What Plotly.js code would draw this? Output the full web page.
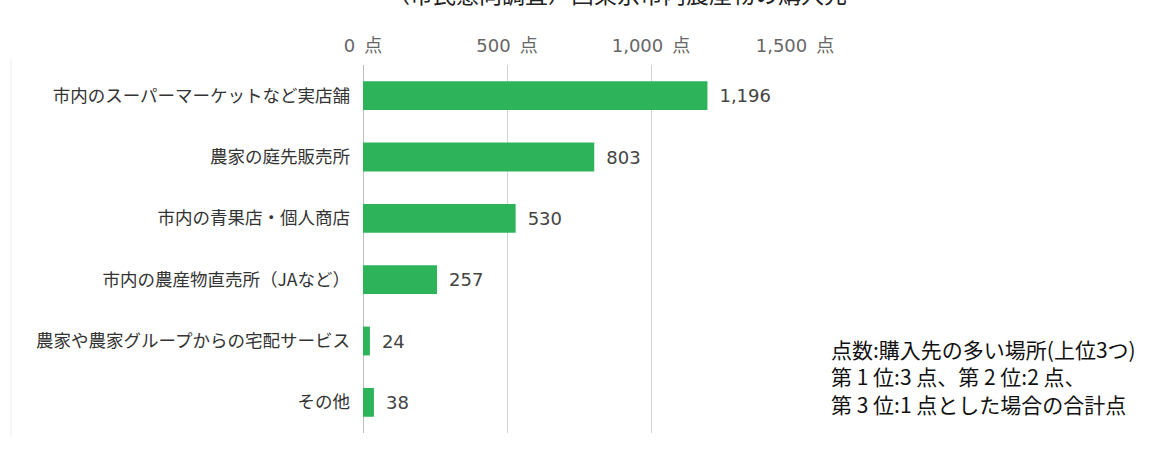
<!DOCTYPE html>
<html><head><meta charset="utf-8">
<script src="https://cdn.plot.ly/plotly-3.0.1.min.js"></script>
<style>html,body{margin:0;padding:0;background:#fff;}#chart{width:1154px;height:450px;}</style>
</head><body><div id="chart"></div>
<script>
const titleText = '（市民意向調査）西東京市内農産物の購入先';
const categories = ['市内のスーパーマーケットなど実店舗','農家の庭先販売所','市内の青果店・個人商店','市内の農産物直売所（JAなど）','農家や農家グループからの宅配サービス','その他'];
const points = [1196, 803, 530, 257, 24, 38];
const tickValues = [0, 500, 1000, 1500];
const tickLabels = ['0\u2002点', '500\u2002点', '1,000\u2002点', '1,500\u2002点'];
const noteLines = ['点数:購入先の多い場所(上位3つ)','第 1 位:3 点、第 2 位:2 点、','第 3 位:1 点とした場合の合計点'];

const cjk = 'Noto Sans CJK JP, Noto Sans, sans-serif';
const num = 'DejaVu Sans, Noto Sans CJK JP, sans-serif';
const trace = {
  type: 'bar', orientation: 'h',
  x: points, y: categories,
  marker: {color: '#2db45a'},
  width: 0.47,
  text: points, texttemplate: '\u2002%{x:,d}', textposition: 'outside',
  textfont: {family: num, size: 18, color: '#444'},
  cliponaxis: false, hoverinfo: 'skip'
};
const layout = {
  width: 1154, height: 450,
  margin: {l: 363, r: 359, t: 65, b: 17},
  paper_bgcolor: '#fff', plot_bgcolor: '#fff',
  showlegend: false,
  font: {family: cjk},
  xaxis: {
    side: 'top', range: [0, 1500], tickmode: 'array', tickvals: tickValues, ticktext: tickLabels,
    showgrid: true, gridcolor: '#d2d2d2', gridwidth: 1,
    zeroline: true, zerolinecolor: '#bdbdbd', zerolinewidth: 1,
    tickfont: {family: num, size: 18, color: '#666'}, ticks: '', showline: false,
    ticklabelstandoff: 8, fixedrange: true
  },
  yaxis: {
    autorange: 'reversed', ticks: '', showgrid: false, zeroline: false, showline: false,
    tickfont: {family: cjk, size: 17.5, color: '#333'}, ticklabelstandoff: 12, fixedrange: true
  },
  annotations: [
    {text: titleText, xref: 'paper', yref: 'paper', x: 0.588, y: 1, yshift: 53, showarrow: false,
     xanchor: 'center', yanchor: 'bottom', font: {family: cjk, size: 23, color: '#222'}},
    {text: noteLines.join('<br>'), xref: 'paper', yref: 'paper', x: 1, xshift: 34, y: 0, yshift: 57,
     showarrow: false, xanchor: 'left', yanchor: 'middle', align: 'left',
     font: {family: cjk, size: 21, color: '#111'}}
  ],
  shapes: [
    {type: 'line', xref: 'paper', yref: 'paper', x0: -0.815, x1: -0.815, y0: -0.01, y1: 1.02,
     line: {color: '#eeeeee', width: 1}}
  ]
};
Plotly.newPlot('chart', [trace], layout, {displayModeBar: false, staticPlot: true});
</script></body></html>
